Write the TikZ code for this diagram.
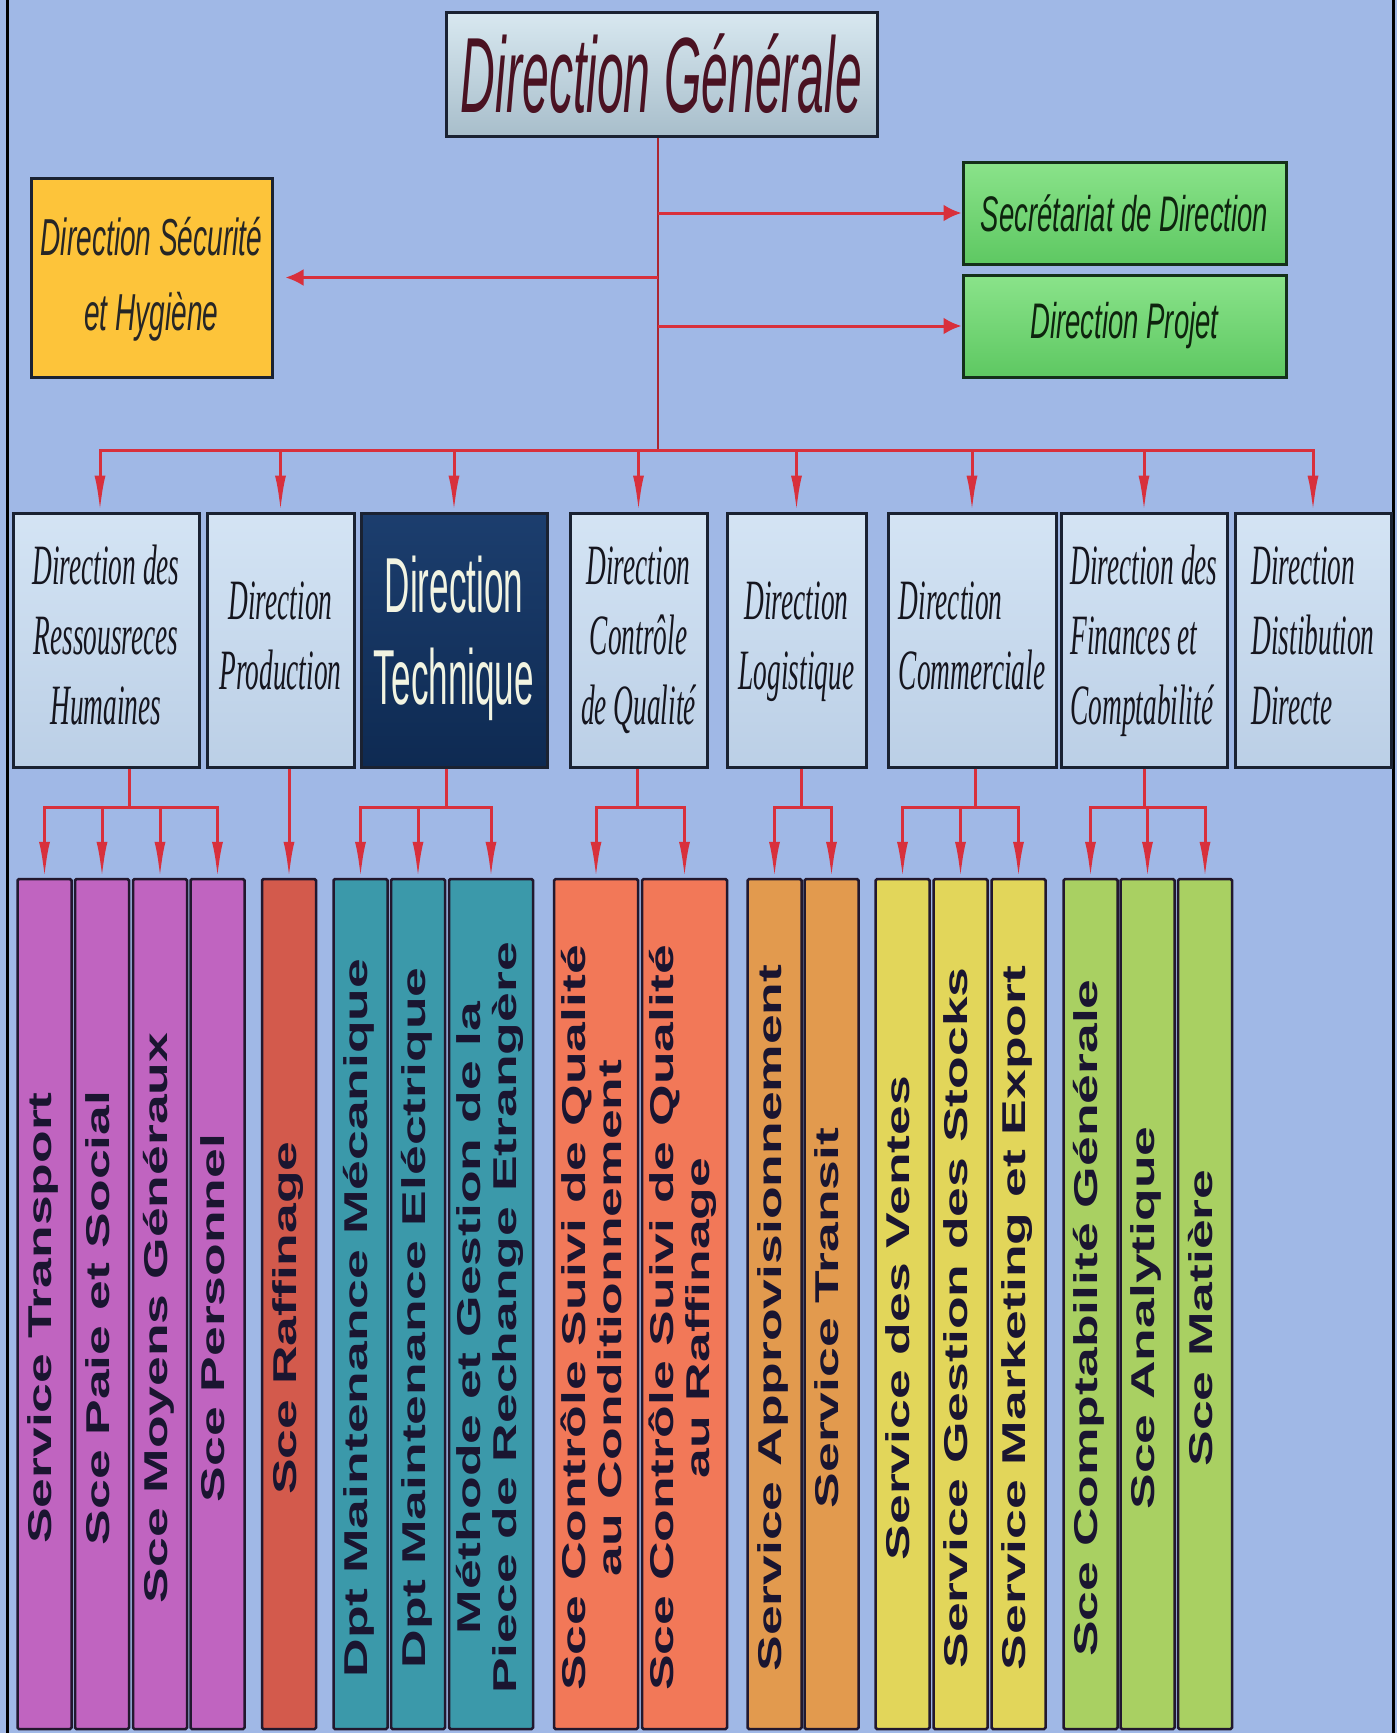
\documentclass[tikz,border=0pt]{standalone}
\usepackage{fontspec}
\setmainfont{Liberation Serif}
\setsansfont{Liberation Sans}
\usepackage{graphicx}
\usetikzlibrary{arrows.meta}

\definecolor{bgblue}{HTML}{A0B8E6}
\definecolor{boxline}{HTML}{1A2232}
\definecolor{dgtop}{HTML}{D8E8F0}
\definecolor{dgbot}{HTML}{A8BECB}
\definecolor{dgtext}{HTML}{4A1222}
\definecolor{greentop}{HTML}{8AE38A}
\definecolor{greenbot}{HTML}{5EC862}
\definecolor{greenline}{HTML}{14301A}
\definecolor{greentext}{HTML}{0E240E}
\definecolor{dshfill}{HTML}{FDC43A}
\definecolor{dirtop}{HTML}{D4E4F4}
\definecolor{dirbot}{HTML}{BBCFE6}
\definecolor{dirtext}{HTML}{15151E}
\definecolor{techtop}{HTML}{1C3E6E}
\definecolor{techbot}{HTML}{0E2A52}
\definecolor{techtext}{HTML}{F2F4E2}
\definecolor{svcline}{HTML}{22182E}
\definecolor{svctext}{HTML}{1A1530}
\definecolor{purp}{HTML}{C064C0}
\definecolor{brick}{HTML}{D35A4C}
\definecolor{teal}{HTML}{3B99AA}
\definecolor{coral}{HTML}{F27858}
\definecolor{amber}{HTML}{E29A4E}
\definecolor{mustard}{HTML}{E2D65A}
\definecolor{lime}{HTML}{A9D062}
\definecolor{linkred}{HTML}{D8303C}

\newcommand{\narrowtext}[2]{\scalebox{#1}[1]{\begin{tabular}{@{}c@{}}#2\end{tabular}}}
\newcommand{\narrowleft}[2]{\scalebox{#1}[1]{\begin{tabular}{@{}l@{}}#2\end{tabular}}}
\newcommand{\vertlabel}[1]{\rotatebox{90}{\scalebox{1.62}[1]{\begin{tabular}{@{}c@{}}#1\end{tabular}}\hspace{28pt}}}

\begin{document}
\begin{tikzpicture}[
    x=1pt, y=-1pt,
    dgbox/.style={draw=boxline, line width=3pt, top color=dgtop, bottom color=dgbot, minimum width=431pt, minimum height=124pt, inner sep=0pt, font=\sffamily\itshape\fontsize{107}{110}\selectfont, text=dgtext},
    sidebox/.style={draw=greenline, line width=3pt, top color=greentop, bottom color=greenbot, minimum width=323pt, minimum height=102pt, inner sep=0pt, font=\sffamily\itshape\fontsize{50}{60}\selectfont, text=greentext},
    dshbox/.style={draw=boxline, line width=3pt, fill=dshfill, minimum width=241pt, minimum height=199pt, inner sep=0pt, font=\sffamily\itshape\fontsize{52}{75}\selectfont, text=black!85},
    dirbox/.style={draw=boxline, line width=3pt, top color=dirtop, bottom color=dirbot, minimum height=254pt, inner sep=0pt, font=\rmfamily\itshape\fontsize{57}{70}\selectfont, text=dirtext},
    techbox/.style={dirbox, top color=techtop, bottom color=techbot, font=\sffamily\fontsize{78}{92}\selectfont, text=techtext},
    svc/.style={draw=svcline, line width=2.5pt, rounded corners=1.5pt, minimum height=850pt, minimum width=54pt, inner sep=0pt, font=\sffamily\bfseries\fontsize{33}{36}\selectfont, text=svctext},
    link/.style={draw=linkred, line width=3pt},
    trunk/.style={draw=linkred!80!black, line width=2pt},
    drop/.style={link, -{Latex[length=36pt, width=11pt]}},
    side/.style={link, -{Latex[length=18pt, width=17pt]}},
    frame/.style={draw=black, line width=3pt}
]
    \useasboundingbox (0,0) rectangle (1397,1733);
    \fill[bgblue] (0,0) rectangle (1397,1733);
    \draw[frame] (7,0) -- (7,1733);
    \draw[frame] (1393,0) -- (1393,1733);

    % Top of the chart
    \node[dgbox] (dg) at (661.5,74) {\scalebox{.45}[1]{Direction Générale}};
    \node[sidebox] (sec) at (1124.5,213) {\scalebox{.55}[1]{Secrétariat de Direction}};
    \node[sidebox] (proj) at (1124.5,326) {\scalebox{.55}[1]{Direction Projet}};
    \node[dshbox] (dsh) at (151.5,277.5) {\narrowtext{.54}{Direction Sécurité\\et Hygiène}};

    % Directions
    \node[dirbox, minimum width=186pt] (drh) at (106,640) {\narrowtext{.48}{Direction des\\Ressousreces\\Humaines}};
    \node[dirbox, minimum width=147pt] (dprod) at (280.5,640) {\narrowtext{.48}{Direction\\Production}};
    \node[techbox, minimum width=186pt] (dtech) at (454,640) {\narrowtext{.45}{Direction\\Technique}};
    \node[dirbox, minimum width=137pt] (dqual) at (638.5,640) {\narrowtext{.48}{Direction\\Contrôle\\de Qualité}};
    \node[dirbox, minimum width=139pt] (dlog) at (796.5,640) {\narrowtext{.48}{Direction\\Logistique}};
    \node[dirbox, minimum width=168pt] (dcom) at (972,640) {\narrowleft{.48}{Direction\\Commerciale}};
    \node[dirbox, minimum width=166pt] (dfin) at (1144,640) {\narrowleft{.48}{Direction des\\Finances et\\Comptabilité}};
    \node[dirbox, minimum width=156pt] (ddist) at (1313,640) {\narrowleft{.48}{Direction\\Distibution\\Directe}};

    % Services
    \node[svc, fill=purp] (s1) at (44.5,1304) {\vertlabel{Service Transport}};
    \node[svc, fill=purp] (s2) at (102,1304) {\vertlabel{Sce Paie et Social}};
    \node[svc, fill=purp] (s3) at (160,1304) {\vertlabel{Sce Moyens Généraux}};
    \node[svc, fill=purp] (s4) at (217.5,1304) {\vertlabel{Sce Personnel}};
    \node[svc, fill=brick] (s5) at (289,1304) {\vertlabel{Sce Raffinage}};
    \node[svc, fill=teal] (s6) at (360.5,1304) {\vertlabel{Dpt Maintenance Mécanique}};
    \node[svc, fill=teal] (s7) at (418,1304) {\vertlabel{Dpt Maintenance Eléctrique}};
    \node[svc, fill=teal, minimum width=84pt] (s8) at (491,1304) {\vertlabel{Méthode et Gestion de la\\Piece de Rechange Etrangère}};
    \node[svc, fill=coral, minimum width=84pt] (s9) at (596,1304) {\vertlabel{Sce Contrôle Suivi de Qualité\\au Conditionnement}};
    \node[svc, fill=coral, minimum width=85pt] (s10) at (684.5,1304) {\vertlabel{Sce Contrôle Suivi de Qualité\\au Raffinage}};
    \node[svc, fill=amber] (s11) at (774.5,1304) {\vertlabel{Service Approvisionnement}};
    \node[svc, fill=amber] (s12) at (831.5,1304) {\vertlabel{Service Transit}};
    \node[svc, fill=mustard] (s13) at (902.5,1304) {\vertlabel{Service des Ventes}};
    \node[svc, fill=mustard] (s14) at (960.5,1304) {\vertlabel{Service Gestion des Stocks}};
    \node[svc, fill=mustard] (s15) at (1018.5,1304) {\vertlabel{Service Marketing et Export}};
    \node[svc, fill=lime] (s16) at (1090.5,1304) {\vertlabel{Sce Comptabilité Générale}};
    \node[svc, fill=lime] (s17) at (1147.5,1304) {\vertlabel{Sce Analytique}};
    \node[svc, fill=lime] (s18) at (1205,1304) {\vertlabel{Sce Matière}};

    % Junctions
    \coordinate (bus) at (658,450);
    \coordinate (hrj) at (129,807);
    \coordinate (tj) at (446,807);
    \coordinate (qj) at (637,807);
    \coordinate (lj) at (801,807);
    \coordinate (cj) at (975,807);
    \coordinate (fj) at (1144,807);

    % Direction Generale links
    \draw[trunk] (dg.south -| bus) -- (bus);
    \draw[side] (bus |- sec.west) -- (sec.west);
    \draw[side] (bus |- proj.west) -- (proj.west);
    \draw[side, shorten >=12pt] (bus |- dsh.east) -- (dsh.east);

    \draw[drop] (bus) -| ([xshift=-6pt]drh.north);
    \draw[drop] (bus) -| (dprod.north);
    \draw[drop] (bus) -| (dtech.north);
    \draw[drop] (bus) -| (dqual.north);
    \draw[drop] (bus) -| (dlog.north);
    \draw[drop] (bus) -| (dcom.north);
    \draw[drop] (bus) -| (dfin.north);
    \draw[drop] (bus) -| (ddist.north);

    % Directions to services
    \draw[link] (drh.south -| hrj) -- (hrj);
    \draw[drop] (hrj) -| (s1.north);
    \draw[drop] (hrj) -| (s2.north);
    \draw[drop] (hrj) -| (s3.north);
    \draw[drop] (hrj) -| (s4.north);

    \draw[drop] (dprod.south -| s5.north) -- (s5.north);

    \draw[link] (dtech.south -| tj) -- (tj);
    \draw[drop] (tj) -| (s6.north);
    \draw[drop] (tj) -| (s7.north);
    \draw[drop] (tj) -| (s8.north);

    \draw[link] (dqual.south -| qj) -- (qj);
    \draw[drop] (qj) -| (s9.north);
    \draw[drop] (qj) -| (s10.north);

    \draw[link] (dlog.south -| lj) -- (lj);
    \draw[drop] (lj) -| (s11.north);
    \draw[drop] (lj) -| (s12.north);

    \draw[link] (dcom.south -| cj) -- (cj);
    \draw[drop] (cj) -| (s13.north);
    \draw[drop] (cj) -| (s14.north);
    \draw[drop] (cj) -| (s15.north);

    \draw[link] (dfin.south -| fj) -- (fj);
    \draw[drop] (fj) -| (s16.north);
    \draw[drop] (fj) -| (s17.north);
    \draw[drop] (fj) -| (s18.north);
\end{tikzpicture}
\end{document}
